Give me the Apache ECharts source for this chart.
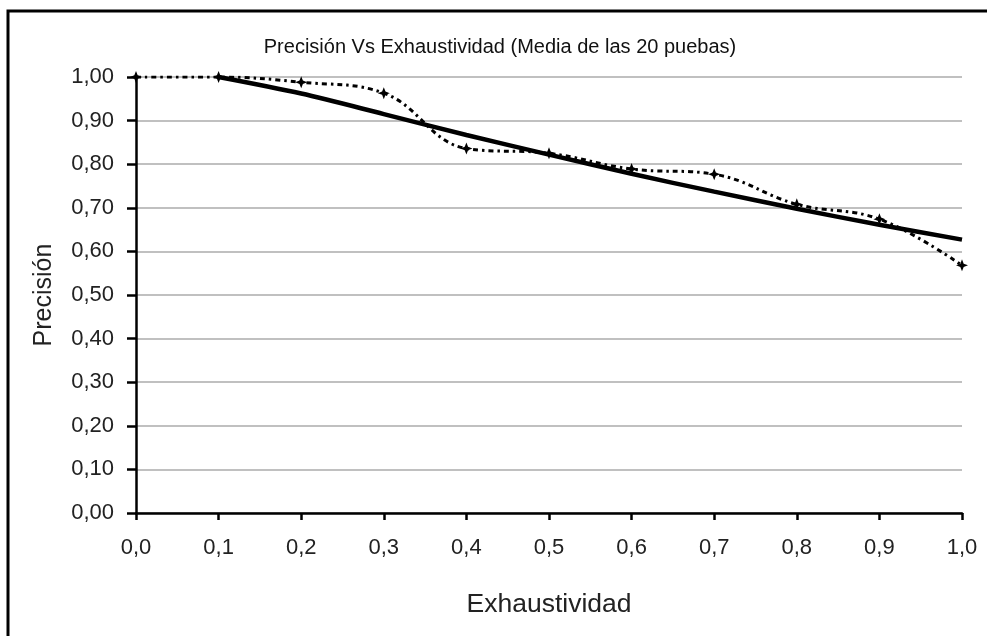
<!DOCTYPE html>
<html>
<head>
<meta charset="utf-8">
<script src="https://cdn.jsdelivr.net/npm/echarts@6/dist/echarts.min.js"></script>
<style>
html,body{margin:0;padding:0;background:#fff;}
#c{width:987px;height:636px;}
</style>
</head>
<body>
<div id="c"></div>
<script>
const titleText = 'Precisión Vs Exhaustividad (Media de las 20 puebas)';
const xName = 'Exhaustividad';
const yName = 'Precisión';
// Exhaustividad (recall) points of the averaged curve
const recall = [0.0, 0.1, 0.2, 0.3, 0.4, 0.5, 0.6, 0.7, 0.8, 0.9, 1.0];
// Mean precision (dashed line with markers)
const precisionMean = [1.00, 1.00, 0.988, 0.963, 0.836, 0.825, 0.789, 0.777, 0.708, 0.674, 0.568];
// Trend line (solid)
const trendRecall = [0.1, 0.2, 0.3, 0.4, 0.5, 0.6, 0.7, 0.8, 0.9, 1.0];
const trendPrecision = [1.00, 0.962, 0.915, 0.867, 0.822, 0.778, 0.737, 0.698, 0.661, 0.627];

const chart = echarts.init(document.getElementById('c'), null, {renderer: 'canvas'});
const font = 'Liberation Sans, Arial, sans-serif';
const star = 'path://M0,-5 L1.4,-1.4 L5,0 L1.4,1.4 L0,5 L-1.4,1.4 L-5,0 L-1.4,-1.4 Z';

chart.setOption({
  backgroundColor: '#fff',
  animation: false,
  title: {
    text: titleText,
    left: 495,
    top: 32,
    textAlign: 'center',
    textStyle: {fontFamily: font, fontSize: 20, fontWeight: 'normal', color: '#111'}
  },
  graphic: [{
    type: 'rect',
    shape: {x: 8, y: 11, width: 1000, height: 700},
    style: {fill: 'none', stroke: '#000', lineWidth: 3},
    silent: true
  }],
  grid: {left: 136, right: 25, top: 77, bottom: 123, containLabel: false},
  xAxis: {
    type: 'value', min: 0, max: 1, interval: 0.1,
    name: xName, nameLocation: 'middle', nameGap: 78,
    nameTextStyle: {fontFamily: font, fontSize: 26.5, color: '#222'},
    axisLine: {show: true, onZero: false, lineStyle: {color: '#000', width: 2.5}},
    axisTick: {show: true, length: 7, lineStyle: {color: '#000', width: 2.5}},
    axisLabel: {fontFamily: font, fontSize: 22, color: '#222', margin: 24,
      formatter: v => v.toFixed(1).replace('.', ',')},
    splitLine: {show: false}
  },
  yAxis: {
    type: 'value', min: 0, max: 1, interval: 0.1,
    name: yName, nameLocation: 'middle', nameGap: 79, nameRotate: 90,
    nameTextStyle: {fontFamily: font, fontSize: 25, color: '#222'},
    axisLine: {show: true, onZero: false, lineStyle: {color: '#000', width: 2.5}},
    axisTick: {show: true, inside: false, length: 9, lineStyle: {color: '#000', width: 2.5}},
    axisLabel: {fontFamily: font, fontSize: 22, color: '#222', margin: 22,
      formatter: v => v.toFixed(2).replace('.', ',')},
    splitLine: {show: true, lineStyle: {color: '#c0c0c0', width: 2}}
  },
  series: [
    {
      type: 'line',
      data: trendRecall.map((x, i) => [x, trendPrecision[i]]),
      smooth: 0.3,
      symbol: 'none',
      lineStyle: {color: '#000', width: 4.5},
      z: 2
    },
    {
      type: 'line',
      data: recall.map((x, i) => [x, precisionMean[i]]),
      smooth: 0.4,
      symbol: star,
      symbolSize: 12,
      itemStyle: {color: '#000'},
      lineStyle: {color: '#000', width: 3, type: [5, 4, 2.5, 4]},
      z: 3
    }
  ]
});
</script>
</body>
</html>
